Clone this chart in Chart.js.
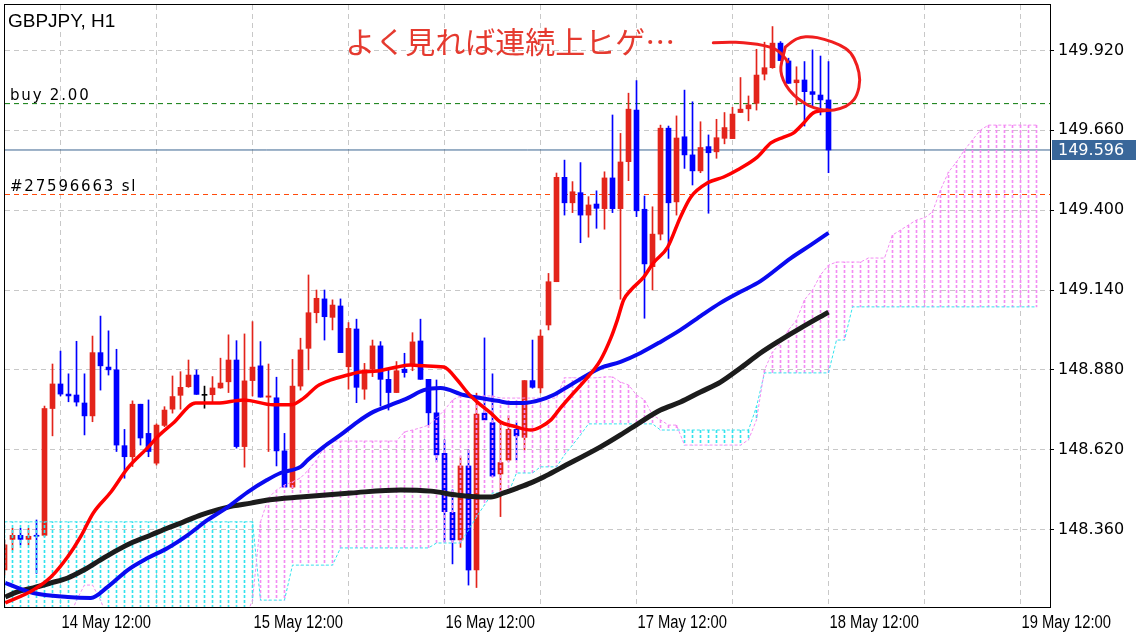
<!DOCTYPE html>
<html>
<head>
<meta charset="utf-8">
<script src="https://cdn.jsdelivr.net/npm/chart.js@4.4.1/dist/chart.umd.min.js"></script>
<style>
  html, body { margin: 0; padding: 0; background: #fff; }
</style>
</head>
<body>
<canvas id="chart" width="1136" height="640"></canvas>
<script>
// GBPJPY H1, one bar per hour; hour 0 = 14 May 00:00
var firstHour = 5;

var opens = [
  148.228, 148.328, 148.341, 148.328, 148.341, 148.341, 148.754, 148.834, 148.801, 148.798,
  148.772, 148.730, 148.936, 148.889, 148.880, 148.633, 148.597, 148.768, 148.673, 148.576,
  148.699, 148.752, 148.797, 148.825, 148.863, 148.797, 148.799, 148.821, 148.841, 148.912,
  148.630, 148.845, 148.893, 148.791, 148.789, 148.616, 148.498, 148.827, 148.950, 149.066,
  149.111, 149.051, 149.088, 148.890, 149.013, 148.817, 148.882, 148.958, 148.849, 148.806,
  148.882, 148.893, 148.974, 148.849, 148.740, 148.608, 148.416, 148.326, 148.567, 148.228,
  148.739, 148.708, 148.541, 148.586, 148.686, 148.660, 148.845, 148.821, 149.026, 149.167,
  149.507, 149.424, 149.457, 149.384, 149.420, 149.405, 149.505, 149.405, 149.558, 149.726,
  149.403, 149.216, 149.322, 149.667, 149.427, 149.639, 149.580, 149.528, 149.607, 149.590,
  149.634, 149.633, 149.718, 149.730, 149.748, 149.843, 149.864, 149.944, 149.886, 149.815,
  149.824, 149.786, 149.775, 149.759
];
var highs = [
  148.326, 148.364, 148.364, 148.364, 148.391, 148.762, 148.899, 148.941, 148.867, 148.973,
  148.867, 148.990, 149.055, 149.007, 148.947, 148.686, 148.779, 148.768, 148.782, 148.704,
  148.760, 148.860, 148.874, 148.912, 148.880, 148.827, 148.858, 148.918, 148.994, 148.975,
  148.997, 149.037, 148.972, 148.899, 148.856, 148.673, 148.914, 148.983, 149.189, 149.140,
  149.140, 149.108, 149.111, 149.034, 149.045, 148.901, 148.977, 148.972, 148.880, 148.907,
  148.934, 149.001, 149.045, 148.849, 148.847, 148.652, 148.489, 148.597, 148.619, 148.804,
  148.984, 148.867, 148.706, 148.730, 148.708, 148.845, 148.977, 149.010, 149.194, 149.521,
  149.563, 149.493, 149.555, 149.444, 149.463, 149.525, 149.710, 149.650, 149.781, 149.822,
  149.446, 149.411, 149.677, 149.674, 149.707, 149.791, 149.753, 149.688, 149.645, 149.696,
  149.718, 149.735, 149.832, 149.772, 149.924, 149.947, 149.998, 149.949, 149.895, 149.867,
  149.884, 149.922, 149.902, 149.884
];
var lows = [
  148.212, 148.293, 148.310, 148.310, 148.217, 148.337, 148.665, 148.795, 148.776, 148.762,
  148.668, 148.711, 148.814, 148.863, 148.614, 148.527, 148.565, 148.635, 148.597, 148.570,
  148.695, 148.739, 148.752, 148.823, 148.800, 148.755, 148.773, 148.820, 148.806, 148.625,
  148.563, 148.795, 148.791, 148.614, 148.567, 148.498, 148.494, 148.814, 148.880, 149.033,
  148.977, 149.010, 148.936, 148.817, 148.773, 148.784, 148.858, 148.762, 148.749, 148.806,
  148.856, 148.877, 148.849, 148.700, 148.580, 148.320, 148.248, 148.302, 148.179, 148.171,
  148.717, 148.532, 148.402, 148.581, 148.586, 148.619, 148.820, 148.805, 149.010, 149.167,
  149.384, 149.392, 149.294, 149.312, 149.341, 149.338, 149.392, 149.110, 149.496, 149.379,
  149.048, 149.140, 149.303, 149.243, 149.384, 149.536, 149.482, 149.522, 149.390, 149.569,
  149.616, 149.633, 149.718, 149.691, 149.726, 149.824, 149.862, 149.887, 149.813, 149.743,
  149.674, 149.735, 149.710, 149.522
];
var closes = [
  148.310, 148.341, 148.328, 148.338, 148.338, 148.754, 148.834, 148.801, 148.795, 148.775,
  148.730, 148.936, 148.893, 148.880, 148.635, 148.597, 148.768, 148.658, 148.614, 148.700,
  148.749, 148.793, 148.823, 148.863, 148.800, 148.797, 148.821, 148.837, 148.912, 148.630,
  148.844, 148.889, 148.791, 148.795, 148.616, 148.498, 148.827, 148.945, 149.066, 149.113,
  149.053, 149.091, 148.936, 149.015, 148.823, 148.880, 148.958, 148.849, 148.806, 148.877,
  148.871, 148.971, 148.849, 148.740, 148.603, 148.418, 148.326, 148.567, 148.228, 148.736,
  148.717, 148.534, 148.578, 148.686, 148.665, 148.845, 148.823, 148.990, 149.167, 149.507,
  149.424, 149.460, 149.384, 149.417, 149.406, 149.505, 149.405, 149.557, 149.729, 149.398,
  149.225, 149.322, 149.667, 149.424, 149.635, 149.580, 149.528, 149.604, 149.587, 149.636,
  149.669, 149.713, 149.729, 149.743, 149.840, 149.864, 149.944, 149.887, 149.813, 149.824,
  149.786, 149.777, 149.759, 149.596
];

// Ichimoku senkou spans, hours 5 .. 134 (shifted 26 bars ahead)
var spanA = [
  148.065, 148.065, 148.065, 148.065, 148.065, 148.065, 148.065, 148.065, 148.065, 148.130,
  148.179, 148.179, 148.130, 148.065, 148.065, 148.065, 148.065, 148.065, 148.065, 148.065,
  148.065, 148.065, 148.065, 148.065, 148.065, 148.065, 148.065, 148.065, 148.065, 148.065,
  148.065, 148.130, 148.385, 148.463, 148.489, 148.505, 148.515, 148.528, 148.554, 148.586,
  148.629, 148.648, 148.648, 148.648, 148.648, 148.648, 148.648, 148.648, 148.648, 148.648,
  148.678, 148.684, 148.691, 148.700, 148.723, 148.749, 148.782, 148.795, 148.795, 148.795,
  148.795, 148.795, 148.788, 148.788, 148.788, 148.788, 148.788, 148.788, 148.788, 148.788,
  148.854, 148.854, 148.854, 148.854, 148.854, 148.857, 148.857, 148.840, 148.831, 148.798,
  148.782, 148.733, 148.717, 148.700, 148.700, 148.635, 148.635, 148.635, 148.635, 148.635,
  148.635, 148.635, 148.635, 148.652, 148.717, 148.880, 148.938, 148.967, 149.010, 149.042,
  149.108, 149.140, 149.189, 149.221, 149.231, 149.231, 149.231, 149.231, 149.244, 149.244,
  149.244, 149.319, 149.335, 149.352, 149.368, 149.375, 149.394, 149.466, 149.524, 149.557,
  149.596, 149.629, 149.661, 149.677, 149.677, 149.677, 149.677, 149.677, 149.677, 149.677
];
var spanB = [
  148.385, 148.385, 148.385, 148.385, 148.385, 148.385, 148.385, 148.385, 148.385, 148.385,
  148.385, 148.385, 148.385, 148.385, 148.385, 148.385, 148.385, 148.385, 148.385, 148.385,
  148.385, 148.385, 148.385, 148.385, 148.385, 148.385, 148.385, 148.385, 148.385, 148.385,
  148.385, 148.385, 148.130, 148.130, 148.130, 148.130, 148.244, 148.244, 148.244, 148.244,
  148.244, 148.244, 148.300, 148.300, 148.300, 148.300, 148.300, 148.300, 148.300, 148.300,
  148.300, 148.300, 148.300, 148.300, 148.316, 148.316, 148.316, 148.316, 148.358, 148.401,
  148.440, 148.479, 148.479, 148.479, 148.544, 148.544, 148.544, 148.564, 148.564, 148.564,
  148.603, 148.635, 148.668, 148.704, 148.704, 148.704, 148.704, 148.704, 148.704, 148.704,
  148.704, 148.704, 148.684, 148.684, 148.684, 148.684, 148.684, 148.684, 148.684, 148.684,
  148.684, 148.684, 148.684, 148.684, 148.760, 148.870, 148.870, 148.870, 148.870, 148.870,
  148.870, 148.870, 148.870, 148.870, 148.977, 148.977, 149.085, 149.085, 149.085, 149.085,
  149.085, 149.085, 149.085, 149.085, 149.085, 149.085, 149.085, 149.085, 149.085, 149.085,
  149.085, 149.085, 149.085, 149.085, 149.085, 149.085, 149.085, 149.085, 149.085, 149.085
];

// moving averages (hour, price)
var maFastHours  = [5.1, 8.6, 10.8, 12.9, 14.5, 16.1, 18.3, 20.4, 23, 24.1, 26.1, 28.9, 31.6, 34.9, 38.6, 40.8, 42.4, 44.1, 45.8, 47.9, 49.5, 51.6, 54, 55.8, 57.4, 59.9, 61.6, 62.9, 64.1, 65.8, 67, 68.6, 70.8, 72, 73.3, 74.5, 75.8, 77.6, 79.5, 80.8, 81.6, 82.4, 83.3, 84.9, 86.1, 87.9, 89.5, 90.8, 92.9, 94.9, 96.6, 99.1, 100.8, 102.4, 103.6, 104.9, 106.1, 108];
var maFastValues = [148.121, 148.163, 148.205, 148.271, 148.336, 148.414, 148.482, 148.560, 148.629, 148.661, 148.707, 148.772, 148.772, 148.782, 148.766, 148.766, 148.788, 148.827, 148.847, 148.863, 148.873, 148.876, 148.889, 148.896, 148.893, 148.889, 148.847, 148.805, 148.775, 148.739, 148.710, 148.697, 148.684, 148.694, 148.717, 148.756, 148.795, 148.847, 148.912, 148.984, 149.042, 149.108, 149.140, 149.182, 149.228, 149.280, 149.378, 149.443, 149.489, 149.508, 149.531, 149.573, 149.619, 149.638, 149.651, 149.684, 149.717, 149.726];
var maMidHours   = [5.1, 8.6, 12.9, 15.8, 17.9, 20.4, 22.9, 25.4, 27.9, 30.4, 32.9, 35.4, 37.8, 39.5, 42, 42.9, 44.9, 47, 49.1, 51.1, 53.3, 55.4, 57.4, 59.5, 62.4, 64.5, 66.6, 68.3, 69.9, 72, 73.6, 74.5, 79.5, 82, 84.5, 87, 89.5, 92, 94.5, 97, 99.5, 103.3, 105.8, 108];
var maMidValues  = [148.186, 148.153, 148.140, 148.137, 148.173, 148.228, 148.267, 148.300, 148.342, 148.391, 148.433, 148.482, 148.521, 148.544, 148.564, 148.586, 148.629, 148.668, 148.710, 148.743, 148.766, 148.788, 148.814, 148.821, 148.798, 148.788, 148.779, 148.772, 148.772, 148.782, 148.798, 148.811, 148.886, 148.906, 148.935, 148.971, 149.010, 149.055, 149.098, 149.134, 149.169, 149.244, 149.287, 149.326];
var maSlowHours  = [5.1, 6.6, 8.6, 10.8, 12.9, 14.9, 17, 19.1, 21.1, 23.3, 25.4, 27.4, 29.5, 31.6, 33.6, 35.8, 37.9, 42, 48.3, 54.5, 58.3, 61.6, 64.5, 65.8, 67.4, 69.1, 70.8, 72.4, 74.5, 79.5, 82, 84.5, 87, 89.5, 92, 94.5, 97, 99.5, 102, 104.5, 108];
var maSlowValues = [148.140, 148.157, 148.170, 148.186, 148.202, 148.228, 148.261, 148.293, 148.319, 148.342, 148.365, 148.385, 148.407, 148.424, 148.437, 148.446, 148.456, 148.466, 148.479, 148.489, 148.485, 148.472, 148.466, 148.466, 148.479, 148.495, 148.512, 148.531, 148.560, 148.629, 148.668, 148.710, 148.749, 148.775, 148.808, 148.840, 148.886, 148.935, 148.977, 149.016, 149.068];

var buyPrice = 149.747;
var slPrice = 149.451;

var priceTicks = [148.360, 148.620, 148.880, 149.140, 149.400, 149.660, 149.920];
var gridHours = [12, 24, 36, 48, 60, 72, 84, 96, 108, 120, 132];
var labelHours = [12, 36, 60, 84, 108, 132];
var timeLabels = ['14 May 12:00', '15 May 12:00', '16 May 12:00', '17 May 12:00', '18 May 12:00', '19 May 12:00'];

// hand drawn note (hour, price)
var noteText = 'よく見れば連続上ヒゲ…';
var leadHours  = [93.6, 95.4, 97.4, 99.1, 100.8, 101.6, 102.4, 102.9];
var leadPrices = [149.945, 149.948, 149.945, 149.941, 149.931, 149.922, 149.902, 149.883];
var loopHours  = [102.6, 103.5, 104.5, 105.8, 107.4, 109.5, 110.8, 111.6, 112, 111.6, 110.8, 109.5, 107.9, 106.1, 104.9, 103.6, 102.6, 102.1, 102, 102.3, 102.6];
var loopPrices = [149.931, 149.951, 149.964, 149.966, 149.958, 149.938, 149.915, 149.873, 149.824, 149.775, 149.746, 149.730, 149.723, 149.733, 149.749, 149.775, 149.808, 149.840, 149.866, 149.899, 149.931];

var xMin = 5.0625, xMax = 135.6875;
var yMin = 148.1076, yMax = 150.0682;

var UP = '#e3241b', DOWN = '#0000ff', DOJI = '#000000';
var PINK = '#f38cf3', CYAN = '#33e3ee';

var canvas = document.getElementById('chart');
var ctx = canvas.getContext('2d');

function dashPattern(color) {
  var c = document.createElement('canvas');
  c.width = 1; c.height = 5;
  var g = c.getContext('2d');
  g.fillStyle = color;
  g.fillRect(0, 0, 1, 3);
  return ctx.createPattern(c, 'repeat');
}
var kumoUp = dashPattern(PINK);
var kumoDown = dashPattern(CYAN);

var candleColors = opens.map(function (o, i) {
  return closes[i] > o ? UP : (closes[i] < o ? DOWN : DOJI);
});
var wickData = opens.map(function (o, i) { return { x: firstHour + i, y: [lows[i], highs[i]] }; });
var bodyData = opens.map(function (o, i) { return { x: firstHour + i, y: [o, closes[i]] }; });
var kumoData = spanA.map(function (a, i) { return { x: firstHour + i, y: [spanB[i], a] }; });
var spanHours = spanA.map(function (v, i) { return firstHour + i; });
var lastPrice = closes[closes.length - 1];

function pairs(xs, ys) { return xs.map(function (x, i) { return { x: x, y: ys[i] }; }); }
function level(v) { return [{ x: xMin, y: v }, { x: xMax, y: v }]; }

Chart.defaults.font.family = '"DejaVu Sans", sans-serif';
Chart.defaults.color = '#000';

function smoothStroke(c, pts) {
  c.beginPath();
  c.moveTo(pts[0][0], pts[0][1]);
  for (var i = 1; i < pts.length - 1; i++) {
    var mx = (pts[i][0] + pts[i + 1][0]) / 2, my = (pts[i][1] + pts[i + 1][1]) / 2;
    c.quadraticCurveTo(pts[i][0], pts[i][1], mx, my);
  }
  var last = pts[pts.length - 1];
  c.lineTo(last[0], last[1]);
  c.stroke();
}

var decorations = {
  id: 'decorations',
  afterDatasetsDraw: function (chart) {
    var c = chart.ctx, xs = chart.scales.x, ys = chart.scales.y;
    var px = function (hs, ps) { return hs.map(function (h, i) { return [xs.getPixelForValue(h), ys.getPixelForValue(ps[i])]; }); };
    c.save();
    c.font = '30px "Noto Sans CJK JP"';
    c.fillStyle = '#e53a2f';
    c.textBaseline = 'middle';
    c.fillText(noteText, xs.getPixelForValue(47.6), ys.getPixelForValue(149.948));
    c.strokeStyle = '#f01e1e';
    c.lineWidth = 3;
    c.lineCap = 'round';
    c.lineJoin = 'round';
    smoothStroke(c, px(leadHours, leadPrices));
    smoothStroke(c, px(loopHours, loopPrices));
    c.restore();
  },
  afterDraw: function (chart) {
    var c = chart.ctx, a = chart.chartArea, xs = chart.scales.x, ys = chart.scales.y;
    c.save();
    // frame
    c.strokeStyle = '#000';
    c.lineWidth = 1;
    c.strokeRect(a.left - 0.5, a.top - 0.5, a.right - a.left + 1, a.bottom - a.top + 1);
    // time labels, narrow face
    c.fillStyle = '#000';
    c.font = '18px "Liberation Sans", sans-serif';
    labelHours.forEach(function (h, i) {
      c.save();
      c.translate(xs.getPixelForValue(h) + 1, a.bottom + 21);
      c.scale(0.82, 1);
      c.fillText(timeLabels[i], 0, 0);
      c.restore();
    });
    // title and order labels
    c.font = '19px "Liberation Sans", sans-serif';
    c.fillText('GBPJPY, H1', 8, 27);
    c.font = '15px "DejaVu Sans", sans-serif';
    c.letterSpacing = '1.8px';
    c.fillText('buy 2.00', 10, ys.getPixelForValue(buyPrice) - 4);
    c.fillText('#27596663 sl', 10, ys.getPixelForValue(slPrice) - 4);
    c.letterSpacing = '0px';
    // last price box
    var y = Math.round(ys.getPixelForValue(lastPrice));
    c.fillStyle = '#39679a';
    c.fillRect(a.right + 2, y - 10, chart.width - a.right - 2, 20);
    c.fillStyle = '#fff';
    c.font = '16px "DejaVu Sans", sans-serif';
    c.textBaseline = 'middle';
    c.fillText(lastPrice.toFixed(3), a.right + 8, y + 1);
    c.restore();
  }
};

new Chart(ctx, {
  type: 'line',
  data: {
    datasets: [
      { label: 'MA fast', data: pairs(maFastHours, maFastValues), borderColor: '#ff0000', borderWidth: 3.5,
        pointRadius: 0, cubicInterpolationMode: 'monotone', order: 1 },
      { label: 'MA mid', data: pairs(maMidHours, maMidValues), borderColor: '#0a0af0', borderWidth: 4,
        pointRadius: 0, cubicInterpolationMode: 'monotone', order: 2 },
      { label: 'MA slow', data: pairs(maSlowHours, maSlowValues), borderColor: '#1c1c1c', borderWidth: 5,
        pointRadius: 0, cubicInterpolationMode: 'monotone', order: 3 },
      { label: 'Senkou A', data: pairs(spanHours, spanA),
        borderColor: PINK, borderWidth: 1, borderDash: [3, 2], pointRadius: 0, order: 4 },
      { label: 'Senkou B', data: pairs(spanHours, spanB),
        borderColor: CYAN, borderWidth: 1, borderDash: [3, 2], pointRadius: 0, order: 4 },
      { type: 'bar', label: 'Kumo', data: kumoData, barThickness: 1, grouped: false, order: 5,
        backgroundColor: function (c) { return spanA[c.dataIndex] >= spanB[c.dataIndex] ? kumoUp : kumoDown; } },
      { type: 'bar', label: 'Bodies', data: bodyData, backgroundColor: candleColors, barThickness: 5,
        minBarLength: 1, grouped: false, order: 6 },
      { type: 'bar', label: 'Wicks', data: wickData, backgroundColor: candleColors, barThickness: 1,
        grouped: false, order: 7 },
      { label: 'buy', data: level(buyPrice), borderColor: '#0a7a0a', borderWidth: 1, borderDash: [5, 4], pointRadius: 0, order: 8 },
      { label: 'sl', data: level(slPrice), borderColor: '#ff4a0a', borderWidth: 1, borderDash: [5, 4], pointRadius: 0, order: 8 },
      { label: 'bid', data: level(lastPrice), borderColor: '#3a6490', borderWidth: 1, pointRadius: 0, order: 8 }
    ]
  },
  options: {
    responsive: false,
    devicePixelRatio: 1,
    animation: false,
    layout: { padding: { left: 5, top: 5, right: 0, bottom: 0 } },
    plugins: { legend: { display: false }, tooltip: { enabled: false } },
    scales: {
      x: {
        type: 'linear', min: xMin, max: xMax, offset: false,
        grid: { color: '#c8c8c8', drawTicks: false, offset: false },
        border: { display: false, dash: [5, 4] },
        afterBuildTicks: function (s) { s.ticks = gridHours.map(function (v) { return { value: v }; }); },
        afterFit: function (s) { s.height = 33; s.paddingLeft = 0; s.paddingRight = 0; },
        ticks: { display: false, autoSkip: false, maxRotation: 0 }
      },
      y: {
        type: 'linear', position: 'right', min: yMin, max: yMax,
        grid: { color: '#c8c8c8', tickLength: 4, tickColor: '#000', tickBorderDash: [] },
        border: { display: false, dash: [5, 4] },
        afterBuildTicks: function (s) { s.ticks = priceTicks.map(function (v) { return { value: v }; }); },
        afterFit: function (s) { s.width = 86; s.paddingTop = 0; s.paddingBottom = 0; },
        ticks: {
          crossAlign: 'near', padding: 4, color: '#000', font: { size: 16 },
          callback: function (v) { return v.toFixed(3); }
        }
      }
    }
  },
  plugins: [decorations]
});
</script>
</body>
</html>
